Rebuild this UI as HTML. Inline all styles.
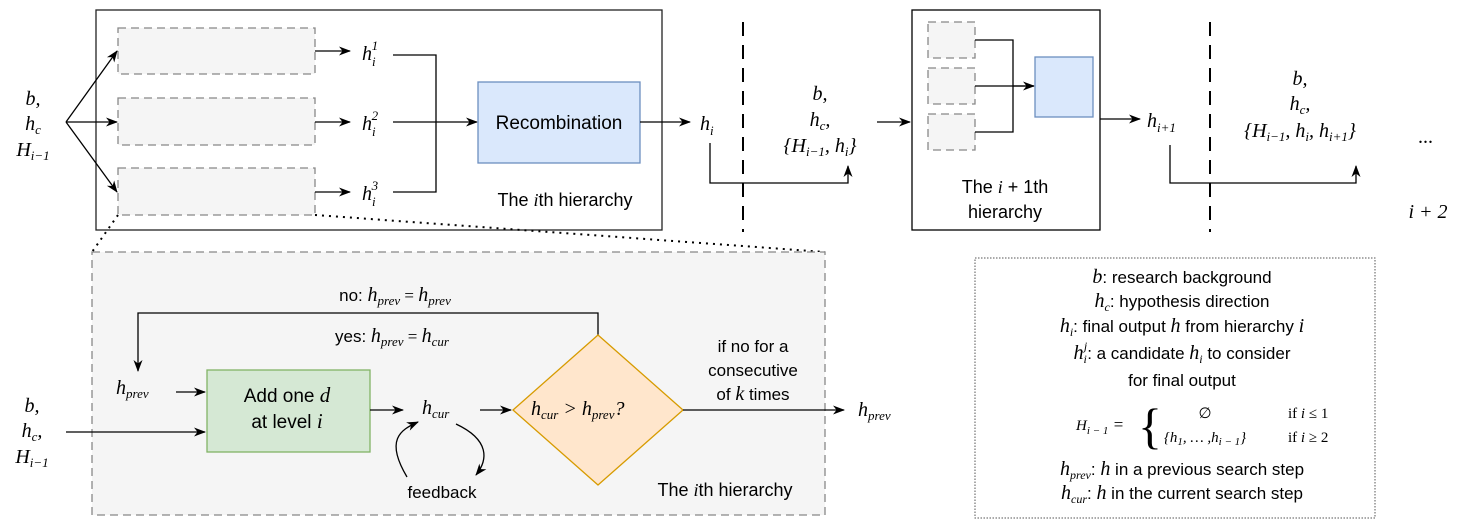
<!DOCTYPE html>
<html><head><meta charset="utf-8"><style>
body{margin:0;background:#fff}
svg{display:block}
text{font-family:"Liberation Sans",sans-serif;fill:#000}
.m{font-family:"Liberation Serif",serif;font-style:italic}
.r{font-family:"Liberation Serif",serif}
</style></head><body>
<svg width="1460" height="525" viewBox="0 0 1460 525" xmlns="http://www.w3.org/2000/svg">
<defs><marker id="a" markerWidth="12" markerHeight="12" refX="11" refY="6" orient="auto" markerUnits="userSpaceOnUse"><path d="M0,1.5 L12,6 L0,10.5 L3.5,6z" fill="#000"/></marker></defs>
<g fill="none" stroke="#000" stroke-width="1.3">
<rect x="96" y="10" width="566" height="220" stroke="#222"/>
<g stroke="#888" stroke-dasharray="8,5" fill="#f5f5f5"><rect x="118" y="28" width="197" height="46"/><rect x="118" y="98" width="197" height="47"/><rect x="118" y="168" width="197" height="47"/></g>
<path d="M66,122 L117,51" marker-end="url(#a)"/><path d="M66,122 L117,122" marker-end="url(#a)"/><path d="M66,122 L117,192" marker-end="url(#a)"/>
<path d="M315,51 H350" marker-end="url(#a)"/><path d="M315,122 H350" marker-end="url(#a)"/><path d="M315,192 H350" marker-end="url(#a)"/>
<path d="M393,55 H436 V192 H393"/><path d="M393,122 H477" marker-end="url(#a)"/>
<rect x="478" y="82" width="162" height="81" fill="#dae8fc" stroke="#6c8ebf"/>
<path d="M640,122 H690" marker-end="url(#a)"/>
<path d="M743,22 V232" stroke-dasharray="14,9" stroke-width="2"/>
<path d="M710,143 V183 H848 V166" marker-end="url(#a)"/>
<path d="M877,122 H910" marker-end="url(#a)"/>
<rect x="912" y="10" width="188" height="220"/>
<g stroke="#888" stroke-dasharray="8,5" fill="#f5f5f5"><rect x="928" y="22" width="47" height="36"/><rect x="928" y="68" width="47" height="36"/><rect x="928" y="114" width="47" height="36"/></g>
<path d="M975,40 H1013 V132 H975 M975,86 H1034" /><path d="M1013,86 H1034" marker-end="url(#a)"/>
<rect x="1035" y="57" width="58" height="60" fill="#dae8fc" stroke="#6c8ebf"/>
<path d="M1100,119 H1140" marker-end="url(#a)"/>
<path d="M1210,22 V232" stroke-dasharray="14,9" stroke-width="2"/>
<path d="M1170,145 V183 H1356 V166" marker-end="url(#a)"/>
<path d="M118,215 L92,252 M315,215 L825,252" stroke-dasharray="2,5" stroke-width="2"/>
<rect x="92" y="252" width="733" height="263" fill="#f5f5f5" stroke="#888" stroke-dasharray="8,5"/>
<path d="M598,336 V313 H138 V371" marker-end="url(#a)"/>
<path d="M176,392 H205" marker-end="url(#a)"/>
<path d="M66,432 H205" marker-end="url(#a)"/>
<rect x="207" y="370" width="163" height="82" fill="#d5e8d4" stroke="#82b366"/>
<path d="M370,410 H403" marker-end="url(#a)"/>
<path d="M480,410 H511" marker-end="url(#a)"/>
<path d="M598,335 L683,410 L598,485 L513,410z" fill="#ffe6cc" stroke="#d79b00"/>
<path d="M683,410 H844" marker-end="url(#a)"/>
<path d="M407,477 C385,440 400,430 418,422" marker-end="url(#a)"/>
<path d="M456,424 C490,440 488,460 476,475" marker-end="url(#a)"/>
<rect x="975" y="258" width="400" height="260" stroke="#555" stroke-dasharray="1.5,1.5" stroke-width="1"/>
</g>
<g font-size="20">
<text class="m" x="33" y="105" text-anchor="middle">b<tspan class="r">,</tspan></text>
<text class="m" x="33" y="130" text-anchor="middle">h<tspan font-size="13" dy="4">c</tspan></text>
<text class="m" x="33" y="156" text-anchor="middle">H<tspan font-size="13" dy="4">i−1</tspan></text>
<text class="m" x="362" y="60">h<tspan font-size="13" dy="6">i</tspan><tspan font-size="13" dx="-4" dy="-16" class="r">1</tspan></text>
<text class="m" x="362" y="130">h<tspan font-size="13" dy="6">i</tspan><tspan font-size="13" dx="-4" dy="-16" class="r">2</tspan></text>
<text class="m" x="362" y="200">h<tspan font-size="13" dy="6">i</tspan><tspan font-size="13" dx="-4" dy="-16" class="r">3</tspan></text>
<text x="559" y="129" text-anchor="middle" font-size="19">Recombination</text>
<text x="565" y="206" text-anchor="middle" font-size="18">The <tspan class="m">i</tspan>th hierarchy</text>
<text class="m" x="700" y="130">h<tspan font-size="13" dy="5">i</tspan></text>
<text class="m" x="820" y="100" text-anchor="middle">b<tspan class="r">,</tspan></text>
<text class="m" x="820" y="126" text-anchor="middle">h<tspan font-size="13" dy="4">c</tspan><tspan class="r" dy="-4">,</tspan></text>
<text class="m" x="820" y="152" text-anchor="middle"><tspan class="r">{</tspan>H<tspan font-size="13" dy="4">i−1</tspan><tspan class="r" dy="-4">, </tspan>h<tspan font-size="13" dy="4">i</tspan><tspan class="r" dy="-4">}</tspan></text>
<text x="1005" y="193" text-anchor="middle" font-size="18">The <tspan class="m">i</tspan> + 1th</text>
<text x="1005" y="218" text-anchor="middle" font-size="18">hierarchy</text>
<text class="m" x="1147" y="127">h<tspan font-size="13" dy="5">i+1</tspan></text>
<text class="m" x="1300" y="85" text-anchor="middle">b<tspan class="r">,</tspan></text>
<text class="m" x="1300" y="110" text-anchor="middle">h<tspan font-size="13" dy="4">c</tspan><tspan class="r" dy="-4">,</tspan></text>
<text class="m" x="1300" y="137" text-anchor="middle"><tspan class="r">{</tspan>H<tspan font-size="13" dy="4">i−1</tspan><tspan class="r" dy="-4">, </tspan>h<tspan font-size="13" dy="4">i</tspan><tspan class="r" dy="-4">, </tspan>h<tspan font-size="13" dy="4">i+1</tspan><tspan class="r" dy="-4">}</tspan></text>
<text class="r" x="1418" y="143">...</text>
<text class="m" x="1428" y="218" text-anchor="middle">i <tspan class="r">+ 2</tspan></text>
<text x="395" y="301" text-anchor="middle" font-size="17">no: <tspan class="m" font-size="20">h</tspan><tspan class="m" font-size="13" dy="4">prev</tspan><tspan class="r" dy="-4"> = </tspan><tspan class="m" font-size="20">h</tspan><tspan class="m" font-size="13" dy="4">prev</tspan></text>
<text x="392" y="342" text-anchor="middle" font-size="17">yes: <tspan class="m" font-size="20">h</tspan><tspan class="m" font-size="13" dy="4">prev</tspan><tspan class="r" dy="-4"> = </tspan><tspan class="m" font-size="20">h</tspan><tspan class="m" font-size="13" dy="4">cur</tspan></text>
<text class="m" x="116" y="394">h<tspan font-size="13" dy="4">prev</tspan></text>
<text class="m" x="32" y="412" text-anchor="middle">b<tspan class="r">,</tspan></text>
<text class="m" x="32" y="437" text-anchor="middle">h<tspan font-size="13" dy="4">c</tspan><tspan class="r" dy="-4">,</tspan></text>
<text class="m" x="32" y="463" text-anchor="middle">H<tspan font-size="13" dy="4">i−1</tspan></text>
<text x="287" y="402" text-anchor="middle" font-size="19">Add one <tspan class="m" font-size="21">d</tspan></text>
<text x="287" y="428" text-anchor="middle" font-size="19">at level <tspan class="m" font-size="21">i</tspan></text>
<text class="m" x="422" y="414">h<tspan font-size="13" dy="4">cur</tspan></text>
<text class="m" x="531" y="415">h<tspan font-size="13" dy="4">cur</tspan><tspan class="r" dy="-4"> &gt; </tspan>h<tspan font-size="13" dy="4">prev</tspan><tspan class="r" dy="-4">?</tspan></text>
<text x="753" y="352" text-anchor="middle" font-size="17">if no for a</text>
<text x="753" y="376" text-anchor="middle" font-size="17">consecutive</text>
<text x="753" y="400" text-anchor="middle" font-size="17">of <tspan class="m" font-size="20">k</tspan> times</text>
<text class="m" x="858" y="416">h<tspan font-size="13" dy="4">prev</tspan></text>
<text x="442" y="498" text-anchor="middle" font-size="17">feedback</text>
<text x="725" y="496" text-anchor="middle" font-size="18">The <tspan class="m">i</tspan>th hierarchy</text>
</g>
<g font-size="17" text-anchor="middle">
<text x="1182" y="283"><tspan class="m" font-size="20">b</tspan>: research background</text>
<text x="1182" y="307"><tspan class="m" font-size="20">h</tspan><tspan class="m" font-size="12" dy="4">c</tspan><tspan dy="-4">: hypothesis direction</tspan></text>
<text x="1182" y="332"><tspan class="m" font-size="20">h</tspan><tspan class="m" font-size="12" dy="4">i</tspan><tspan dy="-4">: final output </tspan><tspan class="m" font-size="20">h</tspan> from hierarchy <tspan class="m" font-size="20">i</tspan></text>
<text x="1182" y="359"><tspan class="m" font-size="20">h</tspan><tspan class="m" font-size="12" dy="4">i</tspan><tspan class="m" font-size="12" dx="-3" dy="-13">j</tspan><tspan dy="9">: a candidate </tspan><tspan class="m" font-size="20">h</tspan><tspan class="m" font-size="12" dy="4">i</tspan><tspan dy="-4"> to consider</tspan></text>
<text x="1182" y="386">for final output</text>
<text x="1076" y="430" class="m" font-size="15" text-anchor="start">H<tspan font-size="11" dy="4">i − 1</tspan><tspan class="r" dy="-4" font-size="17"> =</tspan></text>
<text x="1138" y="443" class="r" font-size="50" text-anchor="start">{</text>
<text x="1205" y="418" class="r" font-size="15">∅</text>
<text x="1288" y="418" class="r" font-size="15" text-anchor="start">if <tspan class="m">i</tspan> ≤ 1</text>
<text x="1205" y="442" class="m" font-size="15"><tspan class="r">{</tspan>h<tspan font-size="11" dy="3">1</tspan><tspan class="r" dy="-3">, … ,</tspan>h<tspan font-size="11" dy="3">i − 1</tspan><tspan class="r" dy="-3">}</tspan></text>
<text x="1288" y="442" class="r" font-size="15" text-anchor="start">if <tspan class="m">i</tspan> ≥ 2</text>
<text x="1182" y="475"><tspan class="m" font-size="20">h</tspan><tspan class="m" font-size="12" dy="4">prev</tspan><tspan dy="-4">: </tspan><tspan class="m" font-size="20">h</tspan> in a previous search step</text>
<text x="1182" y="499"><tspan class="m" font-size="20">h</tspan><tspan class="m" font-size="12" dy="4">cur</tspan><tspan dy="-4">: </tspan><tspan class="m" font-size="20">h</tspan> in the current search step</text>
</g>
</svg>
</body></html>
